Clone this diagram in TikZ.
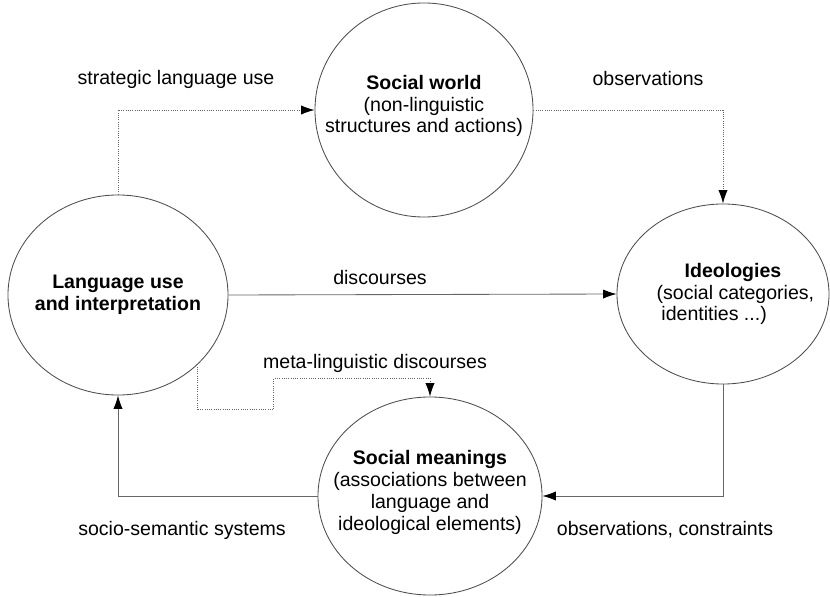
\documentclass[tikz,border=0pt]{standalone}
\usepackage{fontspec}
\setmainfont{Liberation Sans}
\usetikzlibrary{shapes.geometric,arrows.meta}

\tikzset{
  sphere/.style={draw=black!70, ellipse, inner sep=0pt, line width=0.6pt},
  inside/.style={align=center, inner sep=0pt},
  flow/.style={draw=black!60, line width=0.6pt, -{Latex[length=9.5pt,width=6.5pt,color=black]}},
  hint/.style={flow, densely dotted},
  caption/.style={inner sep=0pt}
}

\begin{document}
\begin{tikzpicture}[x=0.025cm, y=-0.025cm, font=\fontsize{13.9}{15.6}\selectfont]
\useasboundingbox (0,0) rectangle (830,597);

% the four spheres, text set as a centre label so it cannot stretch the shape
\node[sphere, minimum width=5.5cm, minimum height=5cm,
  label={[inside]center:{\textbf{Language use}\\\textbf{and interpretation}}}]
  (lang) at (118,295) {};
\node[sphere, minimum width=5.45cm, minimum height=5.35cm,
  label={[inside, yshift=0.1cm]center:{\textbf{Social world}\\(non-linguistic\\structures and actions)}}]
  (world) at (424,110) {};
\node[sphere, minimum width=5.3cm, minimum height=4.5cm,
  label={[inside, align=left, xshift=0.31cm]center:{\hspace*{0.7cm}\textbf{Ideologies}\\(social categories,\\\hspace*{0.12cm}identities ...)}}]
  (ideo) at (723,294) {};
\node[sphere, minimum width=5.6cm, minimum height=4.95cm,
  label={[inside, yshift=0.08cm]center:{\textbf{Social meanings}\\(associations between\\language and\hspace*{0.45cm}\\ideological elements)}}]
  (mean) at (430,496) {};

% arrow captions
\node[caption] (strat) at (176,79) {strategic language use};
\node[caption] (obs) at (648,79) {observations};
\node[caption] (disc) at (380,278) {discourses};
\node[caption] (meta) at (375,363) {meta-linguistic discourses};
\node[caption] (sosem) at (182,530) {socio-semantic systems};
\node[caption] (obscon) at (665,530) {observations, constraints};

% connectors
\draw[hint] (lang.north) |- (world.west);
\draw[hint] (world.east) -| (ideo.north);
\draw[flow] (lang.east) -- (ideo.west);
\draw[hint] (lang.-41) -- ++(0,45) -- ++(76,0) -- ++(0,-31) -| (mean.north);
\draw[flow] (ideo.south) |- (mean.east);
\draw[flow] (mean.west) -| (lang.south);
\end{tikzpicture}
\end{document}
